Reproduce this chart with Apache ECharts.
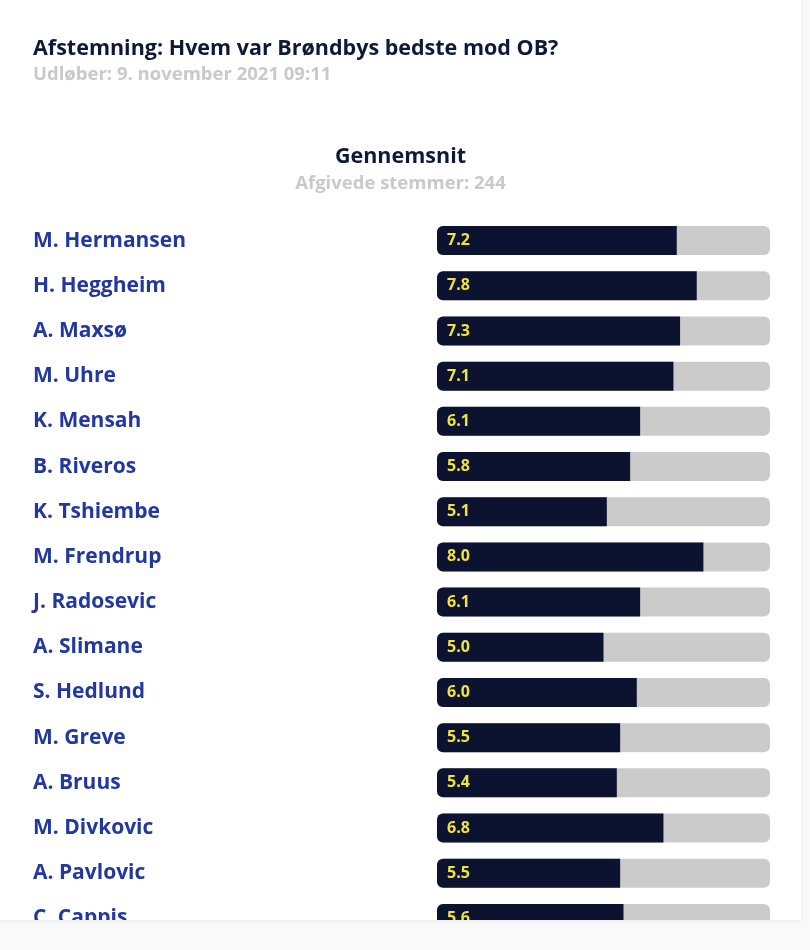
<!DOCTYPE html>
<html>
<head>
<meta charset="utf-8">
<script src="https://cdn.jsdelivr.net/npm/echarts@6/dist/echarts.min.js"></script>
<style>
  html, body { margin: 0; padding: 0; background: #f9f9f9; }
  #card {
    position: absolute; left: 0; top: 0; width: 801px; height: 920px;
    overflow: hidden; background: #fff;
    box-shadow: 0 1px 4px rgba(0,0,0,0.06);
  }
  #chart { width: 801px; height: 950px; }
</style>
</head>
<body>
<div id="card"><div id="chart"></div></div>
<script>
// players, top to bottom
var players = ['M. Hermansen', 'H. Heggheim', 'A. Maxsø', 'M. Uhre', 'K. Mensah', 'B. Riveros',
    'K. Tshiembe', 'M. Frendrup', 'J. Radosevic', 'A. Slimane', 'S. Hedlund', 'M. Greve',
    'A. Bruus', 'M. Divkovic', 'A. Pavlovic', 'C. Cappis'];
// average ratings
var ratings = [7.2, 7.8, 7.3, 7.1, 6.1, 5.8, 5.1, 8.0, 6.1, 5.0, 6.0, 5.5, 5.4, 6.8, 5.5, 5.6];
var maxRating = 10;

var pollTitle = 'Afstemning: Hvem var Brøndbys bedste mod OB?';
var pollExpires = 'Udløber: 9. november 2021 09:11';
var chartTitle = 'Gennemsnit';
var votesText = 'Afgivede stemmer: 244';

var fontFam = '"Open Sans", "Noto Sans", sans-serif';

var myChart = echarts.init(document.getElementById('chart'));

var option = {
    animation: false,
    title: [{
        text: pollTitle,
        subtext: pollExpires,
        left: 28,
        top: 33,
        itemGap: 5,
        textStyle: { fontFamily: fontFam, fontSize: 21.5, fontWeight: 700, color: '#10183a' },
        subtextStyle: { fontFamily: fontFam, fontSize: 18.5, fontWeight: 700, color: '#c9c9c9' }
    }, {
        text: chartTitle,
        subtext: votesText,
        left: 'center',
        top: 141,
        itemGap: 6,
        textStyle: { fontFamily: fontFam, fontSize: 21.5, fontWeight: 700, color: '#10183a' },
        subtextStyle: { fontFamily: fontFam, fontSize: 18.5, fontWeight: 700, color: '#c9c9c9' }
    }],
    grid: {
        left: 437,
        right: 31,
        top: 218,
        height: 723
    },
    xAxis: {
        type: 'value',
        min: 0,
        max: maxRating,
        show: false
    },
    yAxis: {
        type: 'category',
        data: players,
        inverse: true,
        axisLine: { show: false },
        axisTick: { show: false },
        axisLabel: {
            align: 'left',
            margin: 404,
            fontFamily: fontFam,
            fontSize: 21,
            fontWeight: 700,
            color: '#2238a0'
        }
    },
    series: [{
        type: 'bar',
        data: ratings,
        barWidth: 29,
        showBackground: true,
        backgroundStyle: { color: '#cbcbcb', borderRadius: 6 },
        itemStyle: { color: '#0c1330', borderRadius: [6, 0, 0, 6] },
        label: {
            show: true,
            position: 'insideLeft',
            distance: 10,
            fontFamily: fontFam,
            fontSize: 16,
            fontWeight: 700,
            color: '#f3e23c',
            formatter: function (p) { return p.value.toFixed(1); }
        }
    }]
};

myChart.setOption(option);
</script>
</body>
</html>
